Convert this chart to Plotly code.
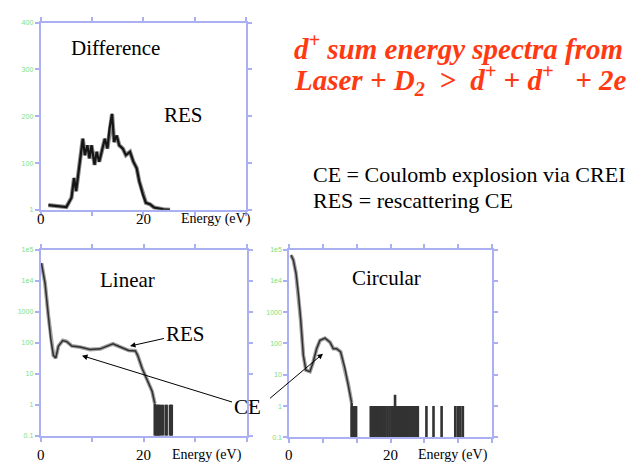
import plotly.graph_objects as go

# ---------------- data ----------------
# Difference panel (linear counts scale)
diff_E = [1.5, 3.4, 4.4, 5.0, 6.0, 6.5, 6.9, 7.7, 8.2, 8.6, 9.1, 9.5, 9.9, 10.5, 10.9, 11.4,
          11.9, 12.5, 13.0, 13.4, 13.9, 14.3, 14.8, 15.3, 16.0, 16.6, 17.4, 18.05, 18.7, 19.2,
          19.9, 20.5, 21.3, 22.1, 23.9, 25.2]
diff_val = [10, 8, 8, 6, 26, 68, 40, 103, 152, 117, 138, 110, 138, 96, 124, 103,
            124, 152, 131, 173, 205, 145, 159, 138, 131, 117, 124, 103, 89, 61,
            33, 15, 12, 5, 1, 0]

# Linear polarisation (log counts)
lin_E = [0.15, 0.84, 1.49, 1.95, 2.46, 2.92, 3.44, 4.28, 5.06, 6.04, 7.66, 9.6, 11.56, 13.18,
         14.03, 15.46, 17.08, 18.38, 18.83, 19.68, 20.66, 21.63, 22.15]
lin_val = [36300, 8300, 724, 132, 39, 32, 78, 117, 108, 78, 72, 60, 63, 81,
           91, 72, 56, 54, 39, 15, 6.3, 2.7, 1.1]
lin_tail_E = [22.3, 22.5, 22.7, 22.9, 23.05, 23.4, 23.75, 24.3, 24.45, 25.1, 25.3, 25.45]
lin_tail_val = [1, 1, 1, 1, 1, 1, 1, 1, 1, 1, 1, 1]

# Circular polarisation (log counts)
circ_E = [0.33, 0.79, 1.32, 1.78, 2.24, 2.77, 3.29, 4.08, 4.74, 5.40, 6.06, 7.05, 8.04, 8.70,
          9.35, 10.14, 11.0, 11.66, 12.32]
circ_val = [66000, 46700, 17600, 4150, 600, 42, 14, 12.6, 26, 68, 125, 148, 110, 68,
            68, 54, 16, 4.8, 1.26]
circ_tail_E = [12.4, 12.6, 12.8, 13.0, 13.2,
               16.1, 16.3, 16.5, 16.7, 16.9, 17.1, 17.3, 17.5, 17.7, 17.9, 18.1, 18.3, 18.5, 18.7,
               19.0, 19.4, 19.8,
               20.2, 20.4, 20.6, 20.8, 20.9, 21.0, 21.2, 21.4, 21.6, 21.8, 22.0, 22.2, 22.4, 22.6,
               22.8, 23.0, 23.2, 23.4, 23.6, 23.8,
               24.2, 24.6, 25.0, 25.4,
               27.1, 28.5, 30.1,
               32.8, 33.3, 33.8, 34.3]
circ_tail_val = [1, 1, 1, 1, 1,
                 1, 1, 1, 1, 1, 1, 1, 1, 1, 1, 1, 1, 1, 1,
                 1, 1, 1,
                 1, 1, 1, 1, 2.3, 1, 1, 1, 1, 1, 1, 1, 1, 1,
                 1, 1, 1, 1, 1, 1,
                 1, 1, 1, 1,
                 1, 1, 1,
                 1, 1, 1, 1]

# tick labels
x_tickvals_label = [0, 20]
x_ticktext = ["0", "20"]
diff_ytickvals = [0, 100, 200, 300, 400]
diff_yticktext = ["1", "100", "200", "300", "400"]
log_ytickvals = [0.1, 1, 10, 100, 1000, 10000, 100000]
log_yticktext = ["0.1", "1", "10", "100", "1000", "1e4", "1e5"]

# ---------------- figure ----------------
W, H = 626, 465
def px(x): return x / W
def py(y): return 1 - y / H

SERIF = "Liberation Serif, Times New Roman, serif"
FRAME = "#aab0f2"
GREEN = "#7ee07e"

fig = go.Figure()

def curve(x, y, xa, ya, halo=3.8, core=1.5, halo_col="#a0a0a0", core_col="#303030"):
    fig.add_trace(go.Scatter(x=x, y=y, xaxis=xa, yaxis=ya, mode="lines",
                             line=dict(color=halo_col, width=halo), hoverinfo="skip"))
    fig.add_trace(go.Scatter(x=x, y=y, xaxis=xa, yaxis=ya, mode="lines",
                             line=dict(color=core_col, width=core), hoverinfo="skip"))

def tail(x, y, floor, xa, ya, last_x, last_y):
    xs, ys = [last_x, last_x, None], [last_y, floor, None]
    for e, v in zip(x, y):
        xs += [e, e, None]
        ys += [floor, v, None]
    fig.add_trace(go.Scatter(x=xs, y=ys, xaxis=xa, yaxis=ya, mode="lines",
                             line=dict(color="#333333", width=2.6), hoverinfo="skip"))

curve(diff_E, diff_val, "x", "y", halo=4.2, core=2.2, halo_col="#8a8a8a", core_col="#151515")
curve(lin_E, lin_val, "x2", "y2")
tail(lin_tail_E, lin_tail_val, 0.1, "x2", "y2", lin_E[-1], lin_val[-1])
curve(circ_E, circ_val, "x3", "y3")
tail(circ_tail_E, circ_tail_val, 0.1, "x3", "y3", circ_E[-1], circ_val[-1])

axis_common = dict(showline=True, linecolor=FRAME, linewidth=2, mirror="ticks",
                   ticks="outside", tickcolor=FRAME, tickwidth=2, ticklen=4,
                   showgrid=False, zeroline=False)
yfont = dict(size=7, color=GREEN, family="Liberation Sans")

fig.update_layout(
    width=W, height=H, margin=dict(l=0, r=0, t=0, b=0),
    paper_bgcolor="white", plot_bgcolor="white", showlegend=False,
    xaxis=dict(domain=[px(40.7), px(246)], range=[0, 40], dtick=10, showticklabels=False,
               anchor="y", **axis_common),
    yaxis=dict(domain=[py(209), py(19)], range=[0, 400], tickvals=diff_ytickvals,
               ticktext=diff_yticktext, tickfont=yfont, anchor="x", **axis_common),
    xaxis2=dict(domain=[px(40.7), px(246.7)], range=[0, 40], dtick=10, showticklabels=False,
                anchor="y2", **axis_common),
    yaxis2=dict(domain=[py(438.3), py(249.3)], type="log", range=[-1, 5], tickvals=log_ytickvals,
                ticktext=log_yticktext, tickfont=yfont, anchor="x2", **axis_common),
    xaxis3=dict(domain=[px(289.3), px(491.7)], range=[0, 40], tick0=0, dtick=40 / 6,
                showticklabels=False, anchor="y3", **axis_common),
    yaxis3=dict(domain=[py(440), py(249.3)], type="log", range=[-1, 5], tickvals=log_ytickvals,
                ticktext=log_yticktext, tickfont=yfont, anchor="x3", **axis_common),
)

ann = []
def text(x, y, s, size=21, color="black", xanchor="center", **kw):
    ann.append(dict(x=px(x), y=py(y), xref="paper", yref="paper", text=s, showarrow=False,
                    xanchor=xanchor, yanchor="middle",
                    font=dict(family=SERIF, size=size, color=color), **kw))

# x tick labels (data coordinates on each x axis)
for xa, yline in [("x", 218), ("x2", 458.3), ("x3", 458.3)]:
    for v, t in zip(x_tickvals_label, x_ticktext):
        ann.append(dict(x=v, y=py(yline), xref=xa, yref="paper", text=t, showarrow=False,
                        xanchor="center", yanchor="middle",
                        font=dict(family=SERIF, size=15, color="black")))
text(216, 218, "Energy (eV)", size=14)
text(207, 458.3, "Energy (eV)", size=14)
text(452.5, 458.3, "Energy (eV)", size=14)

# panel labels
text(115, 45, "Difference")
text(183, 113, "RES")
text(127, 280, "Linear")
text(386, 278, "Circular")

# title
NB = "\u00a0"
RED = "#ff3a12"
text(292, 44, "<b><i>d<sup>+</sup> sum energy spectra from</i></b>", size=29,
     color=RED, xanchor="left")
text(292, 77, f"<b><i>Laser + D<sub>2</sub>{NB}{NB}&gt;{NB}{NB}d<sup>+</sup> + d<sup>+</sup>{NB}{NB}{NB}+ 2e</i></b>",
     size=29, color=RED, xanchor="left")

# definitions
text(311, 173, "CE = Coulomb explosion via CREI", size=22, xanchor="left")
text(311, 199.5, "RES = rescattering CE", size=22, xanchor="left")

# arrows
def arrow(hx, hy, tx, ty, s):
    ann.append(dict(x=px(hx), y=py(hy), xref="paper", yref="paper", text=s,
                    showarrow=True, ax=tx - hx, ay=ty - hy, arrowhead=2, arrowsize=1.1,
                    arrowwidth=1, arrowcolor="black",
                    font=dict(family=SERIF, size=21, color="black")))

arrow(130, 347.3, 185, 335, "RES")
arrow(82, 357, 247, 408, "CE")
arrow(323, 355, 266, 403, " ")

fig.update_layout(annotations=ann)

fig.write_html("out.html", config={"displayModeBar": False},
               post_script="document.body.style.margin='0';")
